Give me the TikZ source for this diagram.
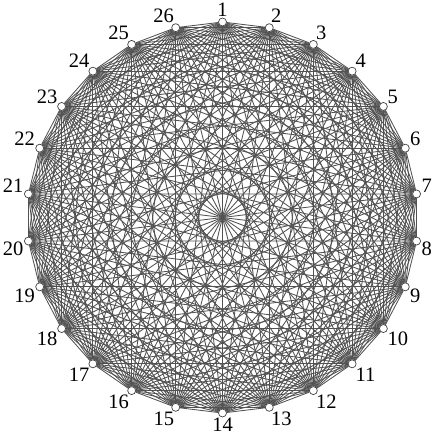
\documentclass[tikz,border=0pt]{standalone}
\usepackage{fontspec}
\setmainfont{Liberation Serif}
\usetikzlibrary{backgrounds}

\begin{document}
\begin{tikzpicture}[
  x=1pt, y=1pt,
  vertex/.style={draw=black!75, circle, fill=white, line width=0.7pt, inner sep=0pt, minimum size=8pt},
  edge/.style={-, draw=black!68, line width=0.85pt},
  vlabel/.style={font=\fontsize{20.5}{20.5}\selectfont, inner sep=0.5pt}]

  \useasboundingbox (-222.5,-219.5) rectangle (215.5,217.5);

  % vertices on the circle
  \foreach \k in {1,...,26}{
    \pgfmathsetmacro\ang{90-(\k-1)*360/26}
    \node[vertex, label={[vlabel, label distance=0pt]\ang:\k}] (v\k) at (\ang:195.5) {};
  }

  % every pair joined
  \begin{scope}[on background layer]
    \foreach \i in {1,...,25}{
      \pgfmathtruncatemacro\next{\i+1}
      \foreach \j in {\next,...,26}
        \draw[edge] (v\i) -- (v\j);
    }
  \end{scope}

\end{tikzpicture}
\end{document}
